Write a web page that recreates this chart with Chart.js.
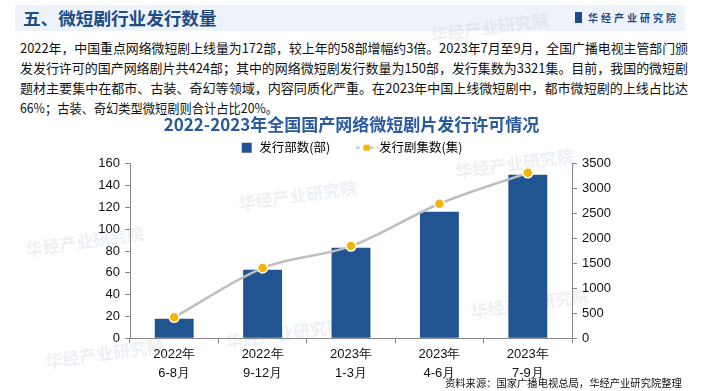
<!DOCTYPE html>
<html><head><meta charset="utf-8">
<script src="https://cdn.jsdelivr.net/npm/chart.js@4.4.0/dist/chart.umd.min.js"></script>
<style>
html,body{margin:0;padding:0;background:#fff;width:703px;height:391px;overflow:hidden;position:relative;font-family:"Noto Sans CJK SC","Noto Sans",sans-serif;}
#band{position:absolute;left:15px;top:5px;width:670px;height:26px;background:#eef3fb;}
#head{position:absolute;left:23px;top:5px;font-size:17.6px;font-weight:bold;color:#1f4b86;line-height:26px;}
#logo{position:absolute;left:575px;top:11px;font-size:10px;color:#1f4b86;font-weight:bold;letter-spacing:3px;line-height:13px;}
#logo i{display:inline-block;width:7px;height:11px;background:#1f4b86;margin-right:6px;vertical-align:-1px;}
#para{position:absolute;left:20px;top:38px;font-size:13px;line-height:20px;color:#111;white-space:nowrap;}
#para div{transform-origin:0 0;width:max-content;}
#src{position:absolute;left:445px;top:376px;font-size:10.3px;color:#111;line-height:14px;}
#wrap{position:absolute;left:0;top:112px;width:703px;height:279px;}
.wm{position:absolute;font-size:17px;font-weight:bold;color:rgba(190,200,215,0.28);transform:rotate(-8deg);white-space:nowrap;}
</style></head><body>
<div id="band"></div>
<div class="wm" style="left:430px;top:14px">华经产业研究院</div>
<div class="wm" style="left:238px;top:182px">华经产业研究院</div>
<div class="wm" style="left:455px;top:150px">华经产业研究院</div>
<div class="wm" style="left:25px;top:228px">华经产业研究院</div>
<div class="wm" style="left:45px;top:340px">华经产业研究院</div>
<div class="wm" style="left:225px;top:320px">华经产业研究院</div>
<div class="wm" style="left:470px;top:290px">华经产业研究院</div>
<div id="head">五、微短剧行业发行数量</div>
<div id="logo"><i></i>华经产业研究院</div>
<div id="para">
<div data-w="668">2022年，中国重点网络微短剧上线量为172部，较上年的58部增幅约3倍。2023年7月至9月，全国广播电视主管部门颁</div>
<div data-w="668">发发行许可的国产网络剧片共424部；其中的网络微短剧发行数量为150部，发行集数为3321集。目前，我国的微短剧</div>
<div data-w="668">题材主要集中在都市、古装、奇幻等领域，内容同质化严重。在2023年中国上线微短剧中，都市微短剧的上线占比达</div>
<div data-w="258">66%；古装、奇幻类型微短剧则合计占比20%。</div>
</div>
<div id="wrap"><canvas id="c" width="703" height="279"></canvas></div>
<div id="src">资料来源：国家广播电视总局，华经产业研究院整理</div>
<script>
document.querySelectorAll('#para div').forEach(function(d){
  var w=d.getBoundingClientRect().width, t=+d.getAttribute('data-w');
  if(w>0) d.style.transform='scaleX('+(t/w)+')';
});

const categories=[["2022年","6-8月"],["2022年","9-12月"],["2023年","1-3月"],["2023年","4-6月"],["2023年","7-9月"]];
const releaseCount=[18,63,83,116,150];
const episodeCount=[420,1410,1850,2700,3321];
const leftTicks=[0,20,40,60,80,100,120,140,160];
const rightTicks=[0,500,1000,1500,2000,2500,3000,3500];

const lm=document.createElement('canvas');lm.width=22;lm.height=10;
(function(){const g=lm.getContext('2d');g.strokeStyle='#bfbfbf';g.lineWidth=2;g.setLineDash([4,3]);
g.beginPath();g.moveTo(0,5);g.lineTo(22,5);g.stroke();g.fillStyle='#f2b705';g.fillRect(8,2,6,6);})();

const axisFont={family:"Liberation Sans, Arial, sans-serif",size:13};
new Chart(document.getElementById('c'),{
  data:{labels:categories,datasets:[
    {type:'line',label:'发行剧集数(集)',data:episodeCount,yAxisID:'y1',borderColor:'#bfbfbf',borderWidth:2.5,
     pointBackgroundColor:'#f2b705',pointBorderColor:'#ffffff',pointBorderWidth:1.5,pointRadius:5,cubicInterpolationMode:'monotone',order:0},
    {type:'bar',label:'发行部数(部)',data:releaseCount,yAxisID:'y',backgroundColor:'#215592',barPercentage:0.88,categoryPercentage:0.5,order:1}
  ]},
  options:{responsive:false,animation:false,
    layout:{padding:{left:0,right:0,top:2,bottom:6}},
    plugins:{
      title:{display:true,text:'2022-2023年全国国产网络微短剧片发行许可情况',color:'#2a5a9c',
        font:{family:"Noto Sans CJK SC",size:17,weight:'bold'},padding:{top:0,bottom:2}},
      legend:{display:true,position:'top',
        labels:{color:'#222',font:{family:"Noto Sans CJK SC",size:12.5},boxWidth:14,boxHeight:10,padding:5,
          generateLabels:function(ch){return [
            {text:'发行部数(部)         ',fillStyle:'#215592',strokeStyle:'#215592',lineWidth:0,pointStyle:'rect',datasetIndex:1},
            {text:'发行剧集数(集)',fillStyle:'#f2b705',strokeStyle:'#bfbfbf',lineWidth:0,pointStyle:lm,datasetIndex:0}
          ];},usePointStyle:true},
        onClick:null},
      tooltip:{enabled:false}
    },
    scales:{
      x:{grid:{display:true,drawOnChartArea:false,offset:true,color:'#888',tickLength:5},border:{color:'#888'},
        ticks:{color:'#111',font:{family:"Liberation Sans, Arial, sans-serif",size:13,lineHeight:1.45},padding:2,maxRotation:0}},
      y:{position:'left',min:0,max:160,afterBuildTicks:s=>{s.ticks=leftTicks.map(v=>({value:v}));},
        afterFit:s=>{s.width=130;},
        grid:{drawOnChartArea:false,color:'#888',tickLength:5},border:{color:'#888'},
        ticks:{color:'#111',font:axisFont,padding:5}},
      y1:{position:'right',min:0,max:3500,afterBuildTicks:s=>{s.ticks=rightTicks.map(v=>({value:v}));},
        afterFit:s=>{s.width=131;},
        grid:{drawOnChartArea:false,color:'#888',tickLength:5},border:{color:'#888'},
        ticks:{color:'#111',font:axisFont,padding:5,callback:v=>String(v)}}
    }
  }
});
</script>
</body></html>
